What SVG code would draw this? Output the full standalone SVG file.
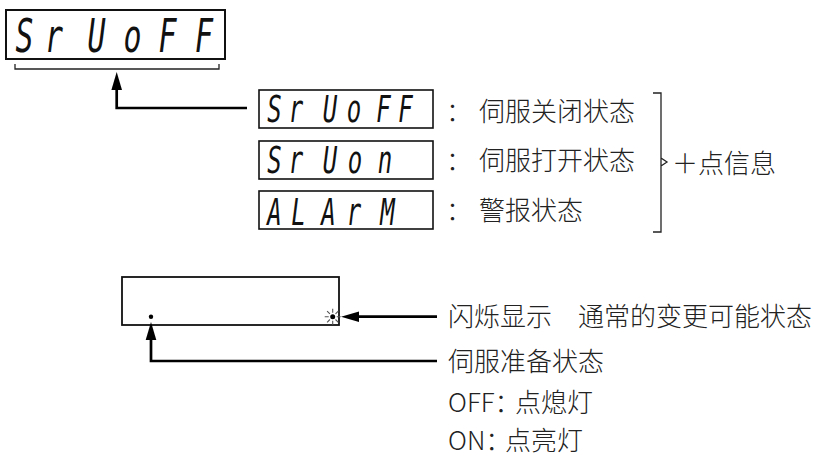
<svg xmlns="http://www.w3.org/2000/svg" width="824" height="456" viewBox="0 0 824 456">
<style>
.seg{font-family:"DejaVu Sans Mono",monospace;font-style:oblique;font-weight:normal;fill:#111;text-anchor:middle}
.cjk{font-family:"Noto Sans CJK SC",sans-serif;font-size:26px;font-weight:300;fill:#222}
.box{fill:#fff;stroke:#111}
.thin{fill:none;stroke:#222;stroke-width:1.3}
.arr{fill:none;stroke:#000;stroke-width:2.7}
</style>
<defs>
<marker id="ah" markerUnits="userSpaceOnUse" markerWidth="18" markerHeight="11" refX="8" refY="5.3" orient="auto" overflow="visible">
<path d="M0,0 L18,5.3 L0,10.6 z" fill="#000"/>
</marker>
</defs>
<g id="main-display">
<rect class="box" x="6" y="10" width="219" height="49" stroke-width="2"/>
<text class="seg" font-size="46" transform="scale(0.65 1)" x="37.7 83.1 148.5 203.8 257.7 313.8" y="52">SrUoFF</text>
<path class="thin" d="M15,64 V69 H219 V64"/>
</g>
<g id="state-servo-off">
<rect class="box" x="259" y="90" width="174" height="38" stroke-width="1.6"/>
<text class="seg" font-size="37" transform="scale(0.65 1)" x="422.3 455.4 507.7 544.6 590 623.8" y="122">SrUoFF</text>
<text class="cjk" y="121"><tspan x="446">：</tspan><tspan x="479">伺服关闭状态</tspan></text>
</g>
<g id="state-servo-on">
<rect class="box" x="259" y="141" width="174" height="38" stroke-width="1.6"/>
<text class="seg" font-size="37" transform="scale(0.65 1)" x="422.3 455.4 507.7 546.2 592.3" y="173">SrUon</text>
<text class="cjk" y="170"><tspan x="446">：</tspan><tspan x="479">伺服打开状态</tspan></text>
</g>
<g id="state-alarm">
<rect class="box" x="259" y="191" width="174" height="38" stroke-width="1.6"/>
<text class="seg" font-size="37" transform="scale(0.65 1)" x="422.3 459.2 505.4 544.6 596.2" y="225">ALArM</text>
<text class="cjk" y="220"><tspan x="446">：</tspan><tspan x="479">警报状态</tspan></text>
</g>
<g id="dot-info">
<path class="thin" d="M653,93 H661 V232 H653 M661,158 L667,162 L661,166"/>
<text class="cjk" x="672" y="173">＋点信息</text>
</g>
<g id="lower-display">
<rect class="box" x="122" y="277" width="217" height="48" stroke-width="1.8"/>
<circle cx="151" cy="316.7" r="2.2" fill="#000"/>
<g transform="translate(332.7 316.7)">
<circle r="2.5" fill="#000"/>
<path d="M4,0 H8 M-4,0 H-8 M0,4 V8 M0,-4 V-8 M2.8,2.8 L5.6,5.6 M-2.8,-2.8 L-5.6,-5.6 M2.8,-2.8 L5.6,-5.6 M-2.8,2.8 L-5.6,5.6" stroke="#555" stroke-width="1.1"/>
</g>
</g>
<g id="label-blink">
<text class="cjk" x="448" y="326">闪烁显示　通常的变更可能状态</text>
</g>
<g id="label-ready">
<text class="cjk" x="448" y="371">伺服准备状态</text>
<text class="cjk" y="412"><tspan x="448">OFF：</tspan><tspan x="515">点熄灯</tspan></text>
<text class="cjk" y="450"><tspan x="448">ON：</tspan><tspan x="505">点亮灯</tspan></text>
</g>
<g id="connectors">
<path class="arr" d="M247,108 H116.7 V82" marker-end="url(#ah)"/>
<path class="arr" d="M437,316.7 H351" marker-end="url(#ah)"/>
<path class="arr" d="M437,361 H151 V332" marker-end="url(#ah)"/>
</g>
</svg>
